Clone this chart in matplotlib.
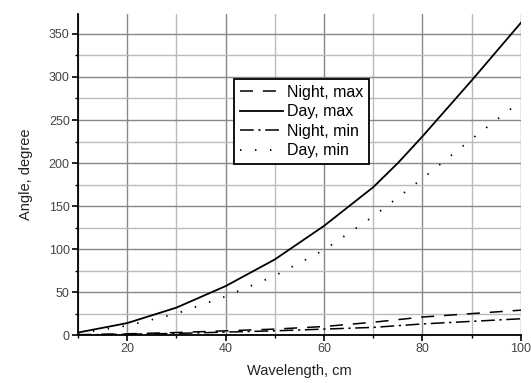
import numpy as np
import matplotlib.pyplot as plt
from matplotlib.ticker import MultipleLocator

plt.rcParams['font.family'] = ['Liberation Sans', 'DejaVu Sans']
plt.rcParams['font.size'] = 9

# Dane
wl = [10, 20, 30, 40, 50, 60, 70, 75, 80, 90, 100]
day_max = [3, 14, 32, 57, 88, 127, 172, 200, 231, 296, 363]
day_min = [2, 11, 25, 45, 69, 99, 138, 160, 182, 228, 272]
wl_n = [10, 20, 30, 40, 50, 60, 70, 80, 90, 100]
night_max = [0.5, 1.5, 3, 5, 7, 10, 15, 21, 25, 29]
night_min = [0.3, 1, 2, 3.5, 5, 7, 9, 13, 16, 19]

fig = plt.figure(figsize=(5.31, 3.83), dpi=100)
ax = fig.add_axes([0.147, 0.125, 0.834, 0.838])

ax.plot(wl_n, night_max, color='black', lw=1.1, ls=(0, (8.5, 6.5)), label='Night, max')
ax.plot(wl, day_max, color='black', lw=1.3, ls='-', label='Day, max')
ax.plot(wl_n, night_min, color='black', lw=1.1, ls=(0, (9, 3, 1.5, 3)), label='Night, min')
ax.plot(wl, day_min, color='black', lw=1.3, ls=(0, (0.8, 7.5)), label='Day, min')

ax.set_xlim(10, 100)
ax.set_ylim(0, 373)
ax.xaxis.set_major_locator(MultipleLocator(20))
ax.xaxis.set_minor_locator(MultipleLocator(10))
ax.yaxis.set_major_locator(MultipleLocator(50))
ax.yaxis.set_minor_locator(MultipleLocator(25))
ax.grid(which='major', color='#888888', lw=1.0)
ax.grid(which='minor', color='#bbbbbb', lw=1.0)
ax.set_axisbelow(True)

for s in ['top', 'right']:
    ax.spines[s].set_visible(False)
for s in ['left', 'bottom']:
    ax.spines[s].set_linewidth(1.3)
ax.tick_params(which='major', direction='out', length=4, width=1.2, colors='black',
               labelcolor='#444444', labelsize=9, pad=2)
ax.tick_params(which='minor', direction='out', length=2, width=1.0)

ax.set_xlabel('Wavelength, cm', color='#222222', fontsize=10.5, labelpad=6)
ax.set_ylabel('Angle, degree', color='#222222', fontsize=10.5, labelpad=11)

leg = ax.legend(loc='upper left', bbox_to_anchor=(0.352, 0.797), frameon=True,
                fancybox=False, edgecolor='black', framealpha=1, fontsize=11.5,
                handlelength=2.75, handletextpad=0.25, borderpad=0.35,
                labelspacing=0.28, borderaxespad=0)
leg.get_frame().set_linewidth(1.3)

plt.savefig('out.png', dpi=100)
